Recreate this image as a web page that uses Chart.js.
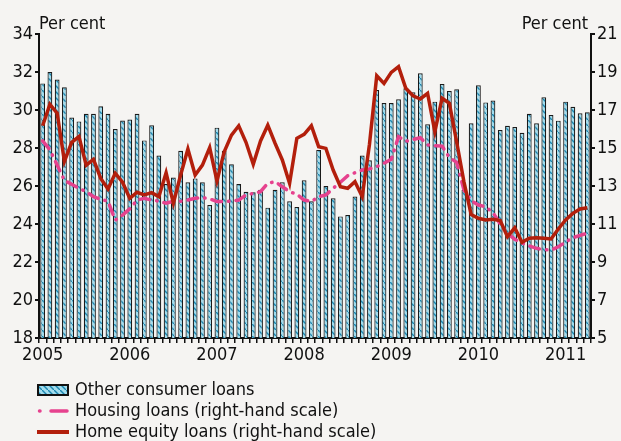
<!DOCTYPE html>
<html>
<head>
<meta charset="utf-8">
<script src="https://cdn.jsdelivr.net/npm/chart.js@4.4.1/dist/chart.umd.min.js"></script>
<style>
    html, body { margin: 0; padding: 0; background: #f5f4f2; }
    #cadre { width: 621px; height: 441px; }
</style>
</head>
<body>
<div id="cadre"><canvas id="graphique" width="621" height="441"></canvas></div>
<script>
// year labels, one per January
const years = ['2005', '2006', '2007', '2008', '2009', '2010', '2011'];
const monthsLastYear = 4;

// Other consumer loans, per cent (left scale), Jan 2005 - Apr 2011
const otherConsumer = [
    31.4, 32.0, 31.6, 31.2, 29.6, 29.4, 29.8, 29.8, 30.2, 29.8, 29.0, 29.45,
    29.5, 29.8, 28.4, 29.2, 27.6, 26.1, 26.45, 27.85, 26.2, 26.4, 26.2, 25.0,
    29.07, 27.85, 27.14, 26.1, 25.7, 25.67, 25.8, 24.86, 25.8, 26.2, 25.2, 24.9,
    26.3, 25.2, 27.9, 26.0, 25.35, 24.4, 24.47, 25.45, 27.6, 27.35, 31.05, 30.37,
    30.37, 30.56, 31.14, 30.93, 31.93, 29.25, 30.44, 31.37, 31.0, 31.09, 25.8, 29.3,
    31.3, 30.4, 30.5, 28.95, 29.17, 29.1, 28.8, 29.8, 29.3, 30.67, 29.74, 29.44,
    30.44, 30.17, 29.83, 29.88
];

// Housing loans, per cent (right scale)
const housing = [
    15.37, 14.9, 14.1, 13.3, 13.09, 12.88, 12.7, 12.44, 12.3, 12.2, 11.2, 11.47,
    11.8, 12.26, 12.35, 12.26, 12.2, 12.09, 12.2, 12.2, 12.26, 12.35, 12.39, 12.32,
    12.18, 12.18, 12.2, 12.26, 12.53, 12.61, 12.7, 13.14, 13.23, 12.96, 12.7, 12.56,
    12.26, 12.18, 12.44, 12.53, 12.88, 13.2, 13.54, 13.7, 13.84, 13.9, 14.02, 14.2,
    14.4, 15.6, 15.35, 15.45, 15.54, 15.16, 15.12, 15.1, 14.5, 14.25, 12.8, 12.23,
    12.0, 11.9, 11.6, 11.0, 10.5, 10.2, 10.0, 9.85, 9.72, 9.65, 9.63, 9.8,
    10.05, 10.28, 10.4, 10.52
];

// Home equity loans, per cent (right scale)
const homeEquity = [
    16.17, 17.3, 16.83, 14.3, 15.3, 15.6, 14.1, 14.4, 13.4, 12.84, 13.67, 13.2,
    12.35, 12.67, 12.53, 12.65, 12.44, 13.7, 12.09, 13.58, 14.95, 13.58, 14.1, 15.02,
    13.26, 14.8, 15.68, 16.17, 15.3, 14.14, 15.37, 16.2, 15.25, 14.37, 13.14, 15.51,
    15.72, 16.17, 15.07, 14.98, 13.84, 12.96, 12.88, 13.23, 12.44, 15.2, 18.8, 18.4,
    18.98, 19.28, 18.14, 17.75, 17.58, 17.88, 15.86, 17.62, 17.35, 15.33, 13.23, 11.5,
    11.3, 11.21, 11.25, 11.18, 10.33, 10.8, 10.04, 10.25, 10.28, 10.25, 10.21, 10.74,
    11.21, 11.56, 11.79, 11.86
];

const legendLabels = [
    'Other consumer loans',
    'Housing loans (right-hand scale)',
    'Home equity loans (right-hand scale)'
];

const police = "'DejaVu Sans Condensed', 'DejaVu Sans', sans-serif";
const rouge = '#b31f0c';
const rose = '#e6428e';

window.onload = function () {
    // month labels: only January carries the year
    let labels = [];
    years.forEach((y, i) => {
        const n = (i === years.length - 1) ? monthsLastYear : 12;
        for (let m = 0; m < n; m++) {
            labels.push(m === 0 ? y : '');
        }
    });

    // hatched fill for the bars
    const pc = document.createElement('canvas');
    pc.width = 6;
    pc.height = 6;
    const p = pc.getContext('2d');
    p.fillStyle = '#a2dced';
    p.fillRect(0, 0, 6, 6);
    p.strokeStyle = '#1b86b0';
    p.lineWidth = 1.4;
    p.beginPath();
    p.moveTo(-1, -1); p.lineTo(7, 7);
    p.stroke();

    const ctx = document.getElementById('graphique').getContext('2d');
    const hachures = ctx.createPattern(pc, 'repeat');

    const decor = {
        id: 'decor',
        beforeDraw(chart) {
            const c = chart.ctx;
            c.save();
            c.fillStyle = '#f5f4f2';
            c.fillRect(0, 0, chart.width, chart.height);
            c.restore();
        },
        afterDraw(chart) {
            const c = chart.ctx;
            c.save();
            c.fillStyle = '#111';
            c.font = '18px ' + police;
            c.textBaseline = 'alphabetic';
            c.textAlign = 'left';
            c.fillText('Per cent', 39, 29);
            c.textAlign = 'right';
            c.fillText('Per cent', 588, 29);

            // legend
            c.textAlign = 'left';
            c.textBaseline = 'middle';
            c.fillStyle = hachures;
            c.fillRect(38, 385, 30, 10);
            c.strokeStyle = '#111';
            c.lineWidth = 2;
            c.strokeRect(38, 385, 30, 10);

            c.strokeStyle = rose;
            c.lineWidth = 3.5;
            c.lineCap = 'round';
            c.beginPath();
            c.moveTo(39.5, 411); c.lineTo(40, 411);
            c.moveTo(51, 411); c.lineTo(67, 411);
            c.stroke();

            c.strokeStyle = rouge;
            c.lineWidth = 4;
            c.lineCap = 'butt';
            c.beginPath();
            c.moveTo(37, 432); c.lineTo(69, 432);
            c.stroke();

            c.fillStyle = '#111';
            c.fillText(legendLabels[0], 75, 390);
            c.fillText(legendLabels[1], 75, 411);
            c.fillText(legendLabels[2], 75, 432);
            c.restore();
        }
    };

    let graphique = new Chart(ctx, {
        type: 'bar',
        data: {
            labels: labels,
            datasets: [{
                label: legendLabels[2],
                type: 'line',
                data: homeEquity,
                yAxisID: 'y1',
                borderColor: rouge,
                borderWidth: 3.5,
                pointRadius: 0,
                tension: 0,
                order: 1
            }, {
                label: legendLabels[1],
                type: 'line',
                data: housing,
                yAxisID: 'y1',
                borderColor: rose,
                borderWidth: 3.5,
                borderDash: [10, 7, 0.5, 7],
                borderCapStyle: 'round',
                pointRadius: 0,
                tension: 0,
                order: 2
            }, {
                label: legendLabels[0],
                data: otherConsumer,
                yAxisID: 'y',
                backgroundColor: hachures,
                borderColor: '#1a1a1a',
                borderWidth: 1.2,
                categoryPercentage: 1,
                barPercentage: 0.66,
                order: 3
            }]
        },
        options: {
            responsive: false,
            animation: false,
            layout: {
                padding: { top: 34, bottom: 73, left: 0, right: 0 }
            },
            plugins: {
                legend: { display: false },
                tooltip: { enabled: false }
            },
            scales: {
                x: {
                    offset: true,
                    border: { display: true, color: '#111', width: 2 },
                    grid: { drawOnChartArea: false, color: '#111', lineWidth: 1.5, tickLength: 5 },
                    ticks: {
                        autoSkip: false,
                        maxRotation: 0,
                        color: '#111',
                        padding: 2,
                        font: { family: police, size: 18 }
                    },
                    afterFit(scale) { scale.height = 30; }
                },
                y: {
                    position: 'left',
                    min: 18,
                    max: 34,
                    border: { display: true, color: '#111', width: 2 },
                    grid: { drawOnChartArea: false, color: '#111', lineWidth: 2, tickLength: 4 },
                    ticks: {
                        stepSize: 2,
                        color: '#111',
                        padding: 2,
                        font: { family: police, size: 18 }
                    },
                    afterFit(scale) { scale.width = 39; }
                },
                y1: {
                    position: 'right',
                    min: 5,
                    max: 21,
                    border: { display: true, color: '#111', width: 2 },
                    grid: { drawOnChartArea: false, color: '#111', lineWidth: 2, tickLength: 4 },
                    ticks: {
                        stepSize: 2,
                        color: '#111',
                        padding: 2,
                        font: { family: police, size: 18 }
                    },
                    afterFit(scale) { scale.width = 30; }
                }
            }
        },
        plugins: [decor]
    });
};
</script>
</body>
</html>
